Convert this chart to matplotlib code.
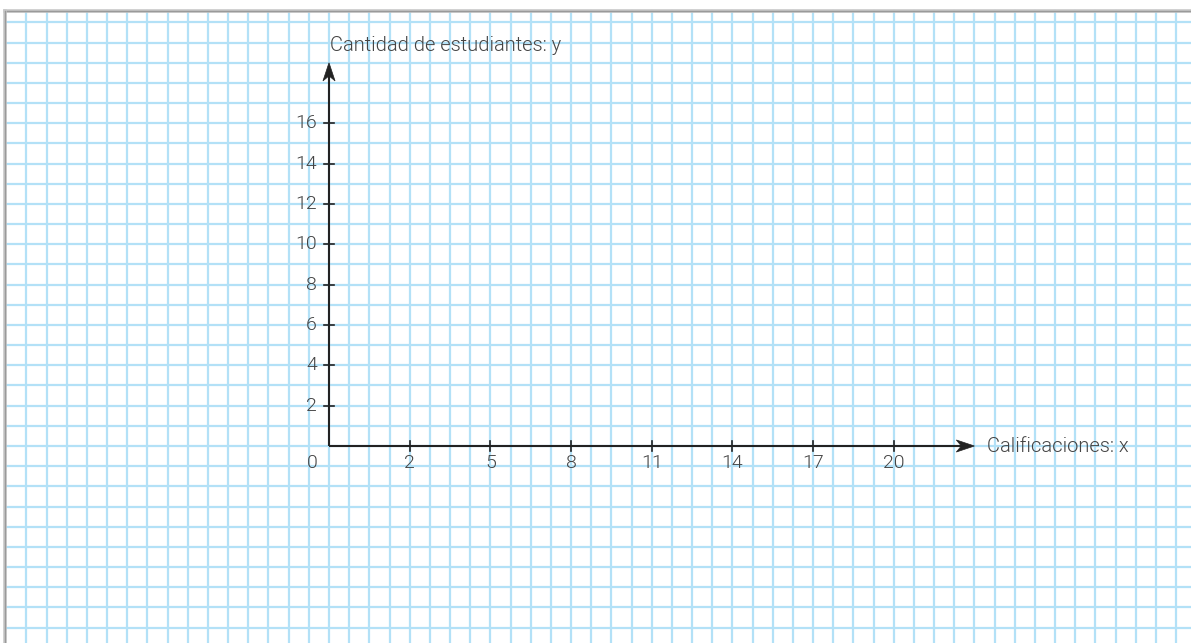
import matplotlib
matplotlib.use("Agg")
import matplotlib.pyplot as plt
from matplotlib.patches import Polygon
import numpy as np

# Axis labels and tick labels
x_title = "Calificaciones: x"
y_title = "Cantidad de estudiantes: y"
x_tick_labels = [2, 5, 8, 11, 14, 17, 20]
y_tick_labels = [2, 4, 6, 8, 10, 12, 14, 16]
origin_label = "0"

# Layout in grid-cell units (one square of the paper = 1 unit)
W, H, DPI = 11.91, 6.43, 100
cell_px = 20.17
origin_px = (329.0, 446.0)          # pixel position of the origin (from top-left)
x_cells_per_tick = 4
y_cells_per_tick = 2
x_axis_len = 32
y_axis_len = 19

grid_color = "#b3e1f7"
axis_color = "#222222"
text_color = "#444444"
font = dict(family=["Roboto", "DejaVu Sans"], fontweight=300)
fs_tick = 14
fs_title = 14.5

fig = plt.figure(figsize=(W, H), dpi=DPI)
ax = fig.add_axes([0, 0, 1, 1])
ax.set_axis_off()

fw, fh = W * DPI, H * DPI
x0 = -origin_px[0] / cell_px
x1 = (fw - origin_px[0]) / cell_px
y1 = origin_px[1] / cell_px
y0 = -(fh - origin_px[1]) / cell_px
ax.set_xlim(x0, x1)
ax.set_ylim(y0, y1)

# Paper border (left and top edges)
left_edge = (5.5 - origin_px[0]) / cell_px
top_edge = (origin_px[1] - 11.0) / cell_px

# Graph-paper grid
for gx in range(int(np.ceil(left_edge + 0.1)), int(np.floor(x1)) + 2):
    ax.plot([gx, gx], [y0, top_edge], color=grid_color, lw=1.6, zorder=1)
for gy in range(int(np.floor(y0)), int(np.floor(top_edge)) + 1):
    ax.plot([left_edge, x1 + 1], [gy, gy], color=grid_color, lw=1.6, zorder=1)

ax.plot([left_edge, x1 + 1], [top_edge, top_edge], color="#c8c8c8", lw=2.6, zorder=2)
ax.plot([left_edge, x1 + 1], [top_edge, top_edge], color="#9a9a9a", lw=1.0, zorder=2)
ax.plot([left_edge, left_edge], [y0, top_edge], color="#c8c8c8", lw=2.6, zorder=2)
ax.plot([left_edge, left_edge], [y0, top_edge], color="#9a9a9a", lw=1.0, zorder=2)

# Axes
ax.plot([0, x_axis_len - 0.6], [0, 0], color=axis_color, lw=1.5, zorder=3, solid_capstyle="butt")
ax.plot([0, 0], [0, y_axis_len - 0.6], color=axis_color, lw=1.5, zorder=3, solid_capstyle="butt")


def arrow_head(tip, direction, length=0.9, half_width=0.3, notch=0.25):
    tip = np.asarray(tip, float)
    d = np.asarray(direction, float)
    n = np.array([-d[1], d[0]])
    back = tip - d * length
    pts = [tip, back + n * half_width, tip - d * (length - notch), back - n * half_width]
    ax.add_patch(Polygon(pts, closed=True, facecolor=axis_color, edgecolor=axis_color,
                         lw=0.5, zorder=4))


arrow_head((x_axis_len, 0), (1, 0))
arrow_head((0, y_axis_len), (0, 1))

# Ticks and tick labels
tk = 0.25
for i, lab in enumerate(x_tick_labels):
    xc = (i + 1) * x_cells_per_tick
    ax.plot([xc, xc], [-tk, tk], color=axis_color, lw=1.2, zorder=3)
    ax.text(xc, -0.4, str(lab), ha="center", va="top", fontsize=fs_tick,
            color=text_color, zorder=5, **font)
for i, lab in enumerate(y_tick_labels):
    yc = (i + 1) * y_cells_per_tick
    ax.plot([-tk, tk], [yc, yc], color=axis_color, lw=1.2, zorder=3)
    ax.text(-0.6, yc, str(lab), ha="right", va="center", fontsize=fs_tick,
            color=text_color, zorder=5, **font)

ax.text(-0.55, -0.4, origin_label, ha="right", va="top", fontsize=fs_tick,
        color=text_color, zorder=5, **font)

# Axis titles
ax.text(x_axis_len + 0.6, 0, x_title, ha="left", va="center", fontsize=fs_title,
        color=text_color, zorder=5, **font)
ax.text(0.05, y_axis_len + 0.85, y_title, ha="left", va="center", fontsize=fs_title,
        color=text_color, zorder=5, **font)

fig.savefig("out.png", dpi=DPI)
